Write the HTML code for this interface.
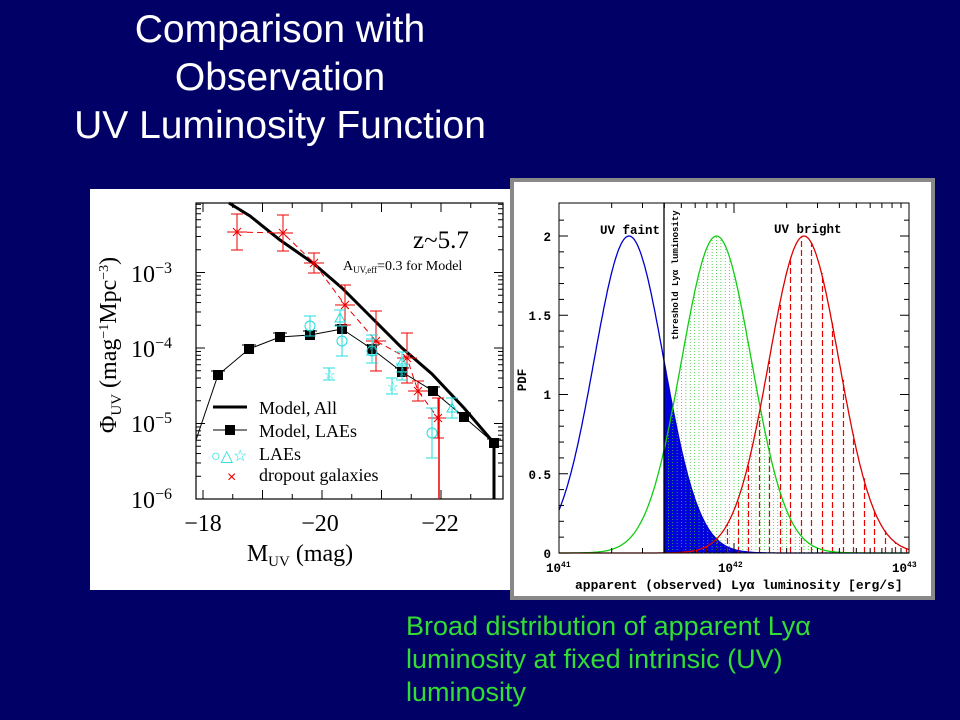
<!DOCTYPE html>
<html><head><meta charset="utf-8"><style>
body{margin:0;width:960px;height:720px;background:#000066;overflow:hidden;font-family:"Liberation Sans",Arial,sans-serif}
.t{position:absolute;color:#fff;font-size:39px;width:560px;text-align:center;left:0}
.g{position:absolute;left:406px;color:#33dd33;font-size:27px;line-height:33px;top:610px;width:550px}
svg{position:absolute;left:0;top:0}
</style></head><body>
<div class="t" style="top:8px">Comparison with</div>
<div class="t" style="top:56px">Observation</div>
<div class="t" style="top:104px">UV Luminosity Function</div>
<div class="g">Broad distribution of apparent Lyα<br>luminosity at fixed intrinsic (UV)<br>luminosity</div>
<svg id="s" width="960" height="720" xmlns="http://www.w3.org/2000/svg">
<rect x="90" y="189" width="420" height="401" fill="#fff"/>
<rect x="510" y="178" width="425" height="422" fill="#888"/>
<rect x="514" y="182" width="417" height="414" fill="#fff"/>
<g id="L"></g><g id="R"></g>
<g font-family="Liberation Serif,serif" fill="#000">
<text x="131" y="282" font-size="24">10<tspan font-size="16" dy="-9">−3</tspan></text>
<text x="131" y="357" font-size="24">10<tspan font-size="16" dy="-9">−4</tspan></text>
<text x="131" y="432" font-size="24">10<tspan font-size="16" dy="-9">−5</tspan></text>
<text x="131" y="508" font-size="24">10<tspan font-size="16" dy="-9">−6</tspan></text>
<text x="203" y="531" font-size="24" text-anchor="middle">−18</text>
<text x="320" y="531" font-size="24" text-anchor="middle">−20</text>
<text x="440" y="531" font-size="24" text-anchor="middle">−22</text>
<text x="300" y="561" font-size="24" text-anchor="middle">M<tspan font-size="15" dy="5">UV</tspan><tspan dy="-5"> (mag)</tspan></text>
<text transform="translate(116,345) rotate(-90)" font-size="24" text-anchor="middle">Φ<tspan font-size="15" dy="5">UV</tspan><tspan dy="-5"> (mag</tspan><tspan font-size="14" dy="-8">−1</tspan><tspan dy="8">Mpc</tspan><tspan font-size="14" dy="-8">−3</tspan><tspan dy="8">)</tspan></text>
<text x="413" y="248" font-size="25">z~5.7</text>
<text x="343" y="270" font-size="14">A<tspan font-size="9" dy="3">UV,eff</tspan><tspan dy="-3">=0.3 for Model</tspan></text>
<text x="259" y="414" font-size="18">Model, All</text>
<text x="259" y="437" font-size="18">Model, LAEs</text>
<text x="259" y="460" font-size="18">LAEs</text>
<text x="259" y="481" font-size="18">dropout galaxies</text>
</g>
<g font-family="Liberation Mono,monospace" fill="#000" font-size="12.5" font-weight="bold">
<text x="600" y="234">UV faint</text>
<text x="774" y="233">UV bright</text>
<text x="551" y="241" text-anchor="end">2</text>
<text x="551" y="320" text-anchor="end">1.5</text>
<text x="551" y="399" text-anchor="end">1</text>
<text x="551" y="479" text-anchor="end">0.5</text>
<text x="551" y="558" text-anchor="end">0</text>
<text x="546" y="572">10<tspan font-size="8" dy="-5">41</tspan></text>
<text x="718" y="572">10<tspan font-size="8" dy="-5">42</tspan></text>
<text x="892" y="572">10<tspan font-size="8" dy="-5">43</tspan></text>
<text x="575" y="589" font-size="13">apparent (observed) Lyα luminosity [erg/s]</text>
<text transform="translate(526,380) rotate(-90)" text-anchor="middle">PDF</text>
<text transform="translate(678,340) rotate(-90)" font-size="9">threshold Lyα luminosity</text>
</g>
</svg>
<script>
var NS="http://www.w3.org/2000/svg";
function el(p,t,a){var e=document.createElementNS(NS,t);for(var k in a)e.setAttribute(k,a[k]);document.getElementById(p).appendChild(e);return e;}
var L="L";
el(L,"rect",{x:196,y:203,width:307,height:296,fill:"none",stroke:"#000","stroke-width":1.2});
for(var d=-6;d<-2;d++)for(var m=1;m<10;m++){var y=499-(Math.log10(m)+d+6)*75.5;if(y<203)continue;var w=m==1?9:5;el(L,"line",{x1:196,x2:196+w,y1:y,y2:y,stroke:"#000"});el(L,"line",{x1:503,x2:503-w,y1:y,y2:y,stroke:"#000"});}
for(var M=-18;M>=-22.6;M-=0.5){var x=203+(-M-18)*59.5;var w=(M%1==0)?9:5;el(L,"line",{x1:x,x2:x,y1:499,y2:499-w,stroke:"#000"});el(L,"line",{x1:x,x2:x,y1:203,y2:203+w,stroke:"#000"});}
el(L,"polyline",{points:"229,203 250,216 280,240 313,263 342,288 372,318 402,348 432,374 464,408 494,443 494,499",fill:"none",stroke:"#000","stroke-width":3});
var lae=[[218,375],[249,349],[280,337],[310,335],[342,329],[372,349],[402,372],[433,391],[464,417],[494,443]];
el(L,"polyline",{points:"196,440 "+lae.map(p=>p.join(",")).join(" "),fill:"none",stroke:"#000"});
lae.forEach(p=>{el(L,"rect",{x:p[0]-5,y:p[1]-5,width:10,height:10,fill:"#000"});el(L,"line",{x1:p[0]-7,x2:p[0]+7,y1:p[1]-4,y2:p[1]-4,stroke:"#000"});});
var red=[[237,232,18],[283,233,18],[314,263,10],[345,305,20],[376,341,30],[407,358,25],[418,391,10],[438,418,20]];
el(L,"polyline",{points:"237,232 283,233 314,263 345,305 376,341 407,358 418,391 438,418",fill:"none",stroke:"#e00","stroke-dasharray":"6,4"});
red.forEach(p=>{el(L,"path",{d:`M${p[0]-4} ${p[1]-4}L${p[0]+4} ${p[1]+4}M${p[0]+4} ${p[1]-4}L${p[0]-4} ${p[1]+4}M${p[0]} ${p[1]-p[2]}V${p[1]+p[2]}M${p[0]-6} ${p[1]-p[2]}h12M${p[0]-6} ${p[1]+p[2]}h12M${p[0]-10} ${p[1]}h20`,stroke:"#e00",fill:"none"});});
el(L,"line",{x1:439,x2:439,y1:398,y2:499,stroke:"#e00","stroke-width":1.5});
var cy=[[310,326,10],[342,341,15],[372,351,12],[432,433,25],[340,318,8],[402,362,10],[452,408,10],[329,374,6],[392,386,8],[402,372,8],[372,345,10]];
cy.forEach((p,i)=>{el(L,"path",{d:`M${p[0]} ${p[1]-p[2]}V${p[1]+p[2]}M${p[0]-6} ${p[1]-p[2]}h12M${p[0]-6} ${p[1]+p[2]}h12`,stroke:"#2dd",fill:"none"});
 if(i<4)el(L,"circle",{cx:p[0],cy:p[1],r:5,fill:"none",stroke:"#2dd"});else if(i<7)el(L,"path",{d:`M${p[0]} ${p[1]-5}L${p[0]+5} ${p[1]+4}H${p[0]-5}Z`,fill:"none",stroke:"#2dd"});else el(L,"text",{x:p[0]-5,y:p[1]+5,"font-size":13,fill:"#2dd"}).textContent="☆";});
el(L,"line",{x1:213,x2:247,y1:407,y2:407,stroke:"#000","stroke-width":3});
el(L,"line",{x1:213,x2:247,y1:430,y2:430,stroke:"#000"});el(L,"rect",{x:225,y:425,width:10,height:10,fill:"#000"});
var t=el(L,"text",{x:211,y:461,"font-size":16,fill:"#2dd"});t.textContent="○△☆";
var t2=el(L,"text",{x:227,y:482,"font-size":16,fill:"#e00"});t2.textContent="×";
var R="R";
function X(l){return 559+(l-41)*175;}function Y(v){return 553-v*158.5;}
function g(l,mu){return 2*Math.exp(-Math.pow(l-mu,2)/(2*0.2*0.2));}
var d="M"+X(41.6)+" "+Y(0);for(var l=41.6;l<=43;l+=0.005)d+="L"+X(l).toFixed(1)+" "+Y(g(l,41.4)).toFixed(1);d+="L"+X(43)+" "+Y(0)+"Z";
el(R,"path",{d:d,fill:"#0000dd"});
for(var l=41.6;l<43;l+=0.025){var x=X(l);el(R,"line",{x1:x,x2:x,y1:Y(0),y2:Y(g(l,41.9)),stroke:"#3c3","stroke-dasharray":"1,2","stroke-width":0.8});}
for(var l=41.6;l<43;l+=0.06){var x=Math.round(X(l))+0.5;el(R,"line",{x1:x,x2:x,y1:Y(0),y2:Y(g(l,42.4)),stroke:"#e00","stroke-dasharray":"6,3","stroke-width":1.2});}
[[41.4,"#00c"],[41.9,"#1c1"],[42.4,"#d00"]].forEach(c=>{var d="";for(var l=41;l<=43.001;l+=0.005)d+=(d?"L":"M")+X(l).toFixed(1)+" "+Y(g(l,c[0])).toFixed(1);el(R,"path",{d:d,fill:"none",stroke:c[1],"stroke-width":1.3});});
el(R,"line",{x1:X(41.6),x2:X(41.6),y1:203,y2:553,stroke:"#000","stroke-width":1.3});
el(R,"rect",{x:559,y:203,width:350,height:350,fill:"none",stroke:"#000"});
for(var v=0;v<=2.2;v+=0.1){var y=Y(v),w=(Math.round(v*10)%5==0)?9:5;el(R,"line",{x1:559,x2:559+w,y1:y,y2:y,stroke:"#000"});el(R,"line",{x1:909,x2:909-w,y1:y,y2:y,stroke:"#000"});}
for(var dd=41;dd<43;dd++)for(var m=1;m<10;m++){var x=X(dd+Math.log10(m)),w=m==1?10:5;el(R,"line",{x1:x,x2:x,y1:553,y2:553-w,stroke:"#000"});el(R,"line",{x1:x,x2:x,y1:203,y2:203+w,stroke:"#000"});}
</script>
</body></html>
